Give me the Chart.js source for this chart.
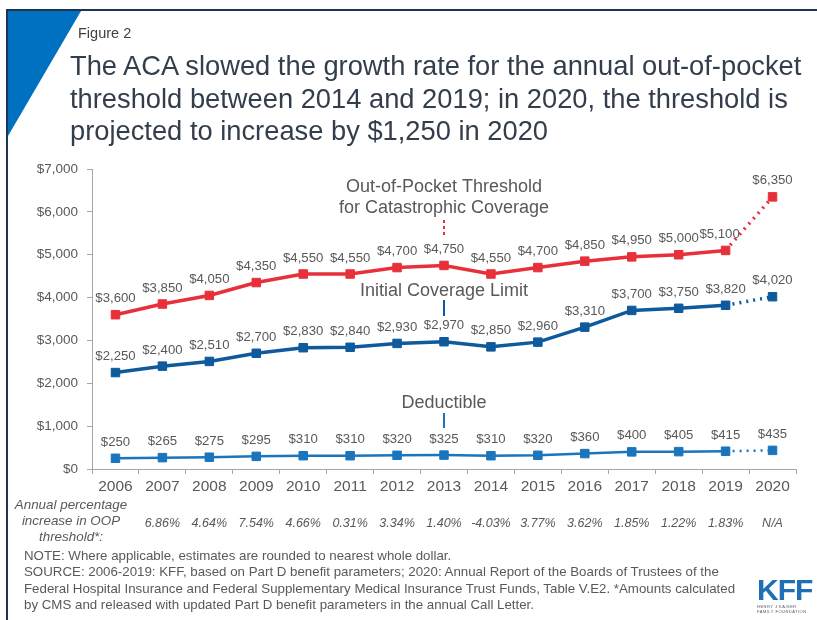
<!DOCTYPE html>
<html>
<head>
<meta charset="utf-8">
<title>Part D out-of-pocket threshold</title>
<script src="https://cdn.jsdelivr.net/npm/chart.js@4.4.0/dist/chart.umd.min.js"></script>
<style>
  html, body { margin: 0; padding: 0; background: #fff; }
  body { width: 817px; height: 620px; position: relative; overflow: hidden;
         font-family: "Liberation Sans", Arial, sans-serif; }
  #chart { position: absolute; left: 0; top: 0; }
  .frame-top { position: absolute; left: 6px; top: 9px; width: 811px; height: 2px; background: #1d3553; }
  .frame-left { position: absolute; left: 6px; top: 9px; width: 2px; height: 611px; background: #1d3553; }
  .corner { position: absolute; left: 8px; top: 11px; width: 73px; height: 125px;
            background: #0070c0; clip-path: polygon(0 0, 100% 0, 0 100%); }
  .fig { position: absolute; left: 78px; top: 25px; font-size: 14.5px; color: #404040; }
  .title { position: absolute; left: 70px; top: 50px; font-size: 27.3px; line-height: 32.5px; color: #333e4c; }
  .notes { position: absolute; left: 24px; top: 548px; font-size: 13.3px; line-height: 16.4px; color: #595959; }
  .logo { position: absolute; left: 757px; top: 577px; width: 54px; height: 38px; }
  .logo .kff { font-family: "Liberation Sans Narrow", "Liberation Sans", sans-serif; font-weight: bold;
               font-size: 30px; line-height: 25px; color: #1f6fb6; letter-spacing: -1px; }
  .logo .sub { font-size: 4px; line-height: 5px; color: #556; letter-spacing: 0.5px; margin-top: 2px; }
</style>
</head>
<body>
<canvas id="chart" width="817" height="620"></canvas>
<div class="frame-top"></div>
<div class="frame-left"></div>
<div class="corner"></div>
<div class="fig">Figure 2</div>
<div class="title">The ACA slowed the growth rate for the annual out-of-pocket<br>threshold between 2014 and 2019; in 2020, the threshold is<br>projected to increase by $1,250 in 2020</div>
<div class="notes">NOTE: Where applicable, estimates are rounded to nearest whole dollar.<br>SOURCE: 2006-2019: KFF, based on Part D benefit parameters; 2020: Annual Report of the Boards of Trustees of the<br>Federal Hospital Insurance and Federal Supplementary Medical Insurance Trust Funds, Table V.E2. *Amounts calculated<br>by CMS and released with updated Part D benefit parameters in the annual Call Letter.</div>
<div class="logo"><div class="kff">KFF</div><div class="sub">HENRY J KAISER<br>FAMILY FOUNDATION</div></div>

<script>
// Part D standard benefit parameters, 2006-2020 (2020 projected)
const years = ["2006", "2007", "2008", "2009", "2010", "2011", "2012", "2013",
               "2014", "2015", "2016", "2017", "2018", "2019", "2020"];
const oopThreshold = [3600, 3850, 4050, 4350, 4550, 4550, 4700, 4750, 4550, 4700, 4850, 4950, 5000, 5100, 6350];
const initialCoverage = [2250, 2400, 2510, 2700, 2830, 2840, 2930, 2970, 2850, 2960, 3310, 3700, 3750, 3820, 4020];
const deductible = [250, 265, 275, 295, 310, 310, 320, 325, 310, 320, 360, 400, 405, 415, 435];
// annual % change in the OOP threshold (none for the first year)
const oopGrowth = ["", "6.86%", "4.64%", "7.54%", "4.66%", "0.31%", "3.34%", "1.40%",
                   "-4.03%", "3.77%", "3.62%", "1.85%", "1.22%", "1.83%", "N/A"];
const yTicks = [0, 1000, 2000, 3000, 4000, 5000, 6000, 7000];

const RED = "#e8303b";
const NAVY = "#0e5a9c";
const BLUE = "#1a75bc";
const GREY = "#595959";
const FONT = "'Liberation Sans', Arial, sans-serif";

const money = v => "$" + v.toLocaleString("en-US");

// last segment (2019 -> 2020) is a projection, drawn dotted
const projected = ctx => ctx.p1DataIndex === years.length - 1 ? [2, 5] : undefined;

function series(label, data, color, width) {
    return {
        label: label,
        data: data,
        borderColor: color,
        backgroundColor: color,
        borderWidth: width,
        pointStyle: "rect",
        pointRadius: 6,
        pointBorderWidth: 1,
        pointBorderColor: color,
        pointBackgroundColor: color,
        tension: 0,
        segment: { borderDash: projected }
    };
}

// value labels, % change row and series callouts
const decorations = {
    id: "decorations",
    afterDatasetsDraw(chart) {
        const ctx = chart.ctx;
        const x = chart.scales.x;
        ctx.save();

        // $ labels above each point
        ctx.font = "13.2px " + FONT;
        ctx.fillStyle = GREY;
        ctx.textAlign = "center";
        ctx.textBaseline = "middle";
        chart.data.datasets.forEach((ds, di) => {
            chart.getDatasetMeta(di).data.forEach((pt, i) => {
                let dx = 0;
                if (di === 0 && i === 13) dx = -6;
                ctx.fillText(money(ds.data[i]), pt.x + dx, pt.y - 16);
            });
        });

        // annual % change row
        ctx.font = "italic 12.5px " + FONT;
        oopGrowth.forEach((txt, i) => {
            if (txt) ctx.fillText(txt, x.getPixelForValue(i), 524);
        });
        ctx.font = "italic 13.4px " + FONT;
        ["Annual percentage", "increase in OOP", "threshold*:"].forEach((t, k) => {
            ctx.fillText(t, 71, 505 + k * 16);
        });

        // series callouts, anchored on 2013
        const cx = x.getPixelForValue(7);
        ctx.font = "18px " + FONT;
        ctx.fillText("Out-of-Pocket Threshold", cx, 187);
        ctx.fillText("for Catastrophic Coverage", cx, 208.5);
        ctx.fillText("Initial Coverage Limit", cx, 291);
        ctx.fillText("Deductible", cx, 403);

        ctx.lineWidth = 2;
        ctx.strokeStyle = RED;
        ctx.setLineDash([3, 3]);
        ctx.beginPath();
        ctx.moveTo(cx, 220);
        ctx.lineTo(cx, 236);
        ctx.stroke();
        ctx.setLineDash([]);
        ctx.strokeStyle = NAVY;
        ctx.beginPath();
        ctx.moveTo(cx, 300);
        ctx.lineTo(cx, 316);
        ctx.stroke();
        ctx.strokeStyle = BLUE;
        ctx.beginPath();
        ctx.moveTo(cx, 413);
        ctx.lineTo(cx, 428);
        ctx.stroke();

        ctx.restore();
    }
};

new Chart(document.getElementById("chart"), {
    type: "line",
    data: {
        labels: years,
        datasets: [
            series("Out-of-Pocket Threshold for Catastrophic Coverage", oopThreshold, RED, 3.5),
            series("Initial Coverage Limit", initialCoverage, NAVY, 3.5),
            series("Deductible", deductible, BLUE, 2.5)
        ]
    },
    options: {
        responsive: false,
        animation: false,
        layout: { padding: { top: 169, right: 21, bottom: 111, left: 0 } },
        plugins: {
            legend: { display: false },
            tooltip: { enabled: false }
        },
        scales: {
            x: {
                offset: true,
                grid: { offset: true, drawOnChartArea: false, tickLength: 5, color: "#a6a6a6" },
                border: { color: "#a6a6a6", width: 1 },
                ticks: { color: GREY, font: { family: FONT, size: 15.5 }, padding: 3, maxRotation: 0 },
                afterFit: s => { s.height = 40; }
            },
            y: {
                min: 0,
                max: 7000,
                afterBuildTicks: s => { s.ticks = yTicks.map(v => ({ value: v })); },
                grid: { drawOnChartArea: false, tickLength: 5, color: "#a6a6a6" },
                border: { color: "#a6a6a6", width: 1 },
                ticks: { color: GREY, font: { family: FONT, size: 13.5 }, padding: 9,
                         callback: v => money(v) },
                afterFit: s => { s.width = 92; }
            }
        }
    },
    plugins: [decorations]
});
</script>
</body>
</html>
